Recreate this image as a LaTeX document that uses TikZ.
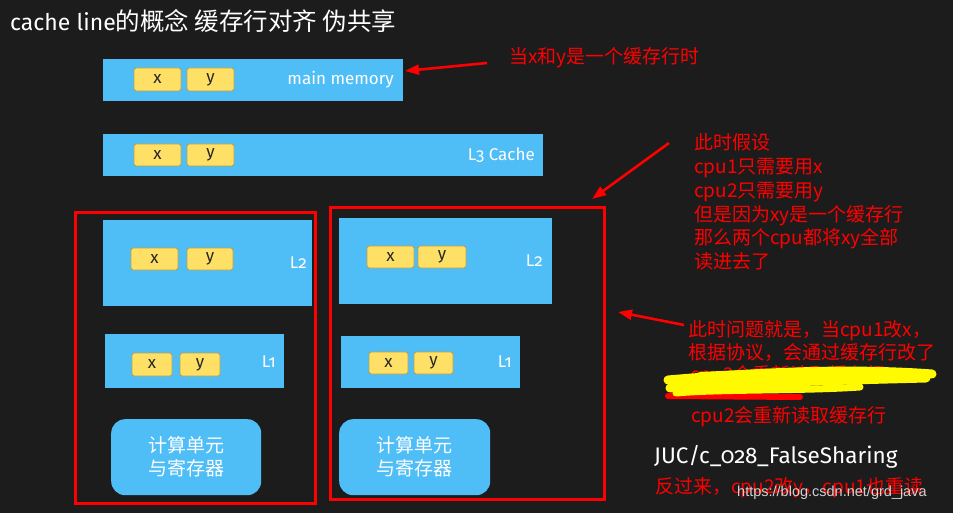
\documentclass[tikz,border=0pt]{standalone}
\usepackage{fontspec}
\setmainfont{Fira Sans}[Numbers=OldStyle]
\newfontfamily\cjk{Noto Sans CJK SC}
\newfontfamily\wmfont{Liberation Sans}
\usetikzlibrary{arrows.meta}
\definecolor{bg}{RGB}{28,28,28}
\definecolor{cblue}{RGB}{79,190,246}
\definecolor{cyel}{RGB}{255,224,102}
\definecolor{cyeld}{RGB}{185,160,70}
\definecolor{scrib}{RGB}{255,250,0}
\begin{document}
\begin{tikzpicture}[x=1pt,y=-1pt,
  bluebox/.style={fill=cblue,draw=none,inner sep=0pt,outer sep=0pt,anchor=north west},
  cell/.style={fill=cyel,draw=cyeld,line width=0.7pt,rounded corners=2.5pt,inner sep=0pt,outer sep=0pt,anchor=north west,text=black!85,font=\fontsize{17}{17}\selectfont},
  cu/.style={fill=cblue,draw=none,rounded corners=14pt,inner sep=0pt,anchor=north west,text=white,align=center,font=\cjk\fontsize{19}{23}\selectfont},
  lvl/.style={text=white,anchor=east,inner sep=0pt,font=\fontsize{17}{17}\selectfont},
  redframe/.style={draw=red,line width=3pt,inner sep=0pt,anchor=north west},
  redtxt/.style={text=red,anchor=west,inner sep=0pt,align=left,font=\cjk\fontsize{19}{23.8}\selectfont},
  redarrow/.style={draw=red,line width=2.6pt,-{Triangle[length=14pt,width=10pt]}},
  scribble/.style={draw=scrib,line width=9pt,line cap=round}
]
\fill[bg] (0,0) rectangle (953,513);
\useasboundingbox (0,0) rectangle (953,513);

% title
\node[anchor=base west,inner sep=0pt,text=white,font=\fontsize{23}{23}\selectfont] (title) at (10,31) {cache line{\cjk\fontsize{24.5}{24.5}\selectfont 的概念 缓存行对齐 伪共享}};

% main memory
\node[bluebox,minimum width=300pt,minimum height=42pt] (mm) at (103,59) {};
\node[cell,minimum width=47pt,minimum height=23pt] (mmx) at (134,68) {x};
\node[cell,minimum width=47pt,minimum height=23pt] (mmy) at (187,68) {y};
\node[lvl] (mmt) at (394,80) {main memory};

% L3
\node[bluebox,minimum width=440pt,minimum height=42pt] (l3) at (103,134) {};
\node[cell,minimum width=47pt,minimum height=22pt] (l3x) at (134,144) {x};
\node[cell,minimum width=47pt,minimum height=22pt] (l3y) at (187,144) {y};
\node[lvl] (l3t) at (535,155) {L3 Cache};

% left cpu
\node[bluebox,minimum width=209pt,minimum height=86pt] (al2) at (103,220) {};
\node[cell,minimum width=47pt,minimum height=22pt] (al2x) at (131,248) {x};
\node[cell,minimum width=46pt,minimum height=22pt] (al2y) at (187,248) {y};
\node[lvl] (al2t) at (307,263) {L2};
\node[bluebox,minimum width=179pt,minimum height=54pt] (al1) at (105,334) {};
\node[cell,minimum width=40pt,minimum height=23pt] (al1x) at (132,353) {x};
\node[cell,minimum width=40pt,minimum height=23pt] (al1y) at (180,353) {y};
\node[lvl] (al1t) at (276,362) {L1};
\node[cu,minimum width=150pt,minimum height=76pt] (acu) at (111,419) {计算单元\\与寄存器};
\node[redframe,minimum width=240pt,minimum height=291pt] (af) at (74,211) {};

% right cpu
\node[bluebox,minimum width=213pt,minimum height=86pt] (bl2) at (339,218) {};
\node[cell,minimum width=47pt,minimum height=22pt] (bl2x) at (367,246) {x};
\node[cell,minimum width=48pt,minimum height=22pt] (bl2y) at (418,246) {y};
\node[lvl] (bl2t) at (543,261) {L2};
\node[bluebox,minimum width=179pt,minimum height=52pt] (bl1) at (341,336) {};
\node[cell,minimum width=39pt,minimum height=22pt] (bl1x) at (369,352) {x};
\node[cell,minimum width=39pt,minimum height=22pt] (bl1y) at (414,352) {y};
\node[lvl] (bl1t) at (512,362) {L1};
\node[cu,minimum width=151pt,minimum height=76pt] (bcu) at (339,419) {计算单元\\与寄存器};
\node[redframe,minimum width=274pt,minimum height=292pt] (bf) at (329,206) {};

% annotations
\node[redtxt] (t1) at (509,58) {当x和y是一个缓存行时};
\coordinate (a1s) at (487,63);
\coordinate (a1e) at (405,71);
\draw[redarrow] (a1s) -- (a1e);

\node[redtxt] (t2) at (694,202) {此时假设\\cpu1只需要用x\\cpu2只需要用y\\但是因为xy是一个缓存行\\那么两个cpu都将xy全部\\读进去了};
\coordinate (a2s) at (669,143);
\coordinate (a2e) at (592,199);
\draw[redarrow] (a2s) -- (a2e);

\node[redtxt] (t3a) at (688,331) {此时问题就是，当cpu1改x，};
\node[redtxt] (t3b) at (688,353) {根据协议，会通过缓存行改了};
\coordinate (a3s) at (684,325);
\coordinate (a3e) at (618,312);
\draw[redarrow] (a3s) -- (a3e);

\node[redtxt] (t3c) at (690,376) {cpu2会重新读取缓存行};
\draw[red,line width=6pt,line cap=round] (668,396) -- (800,397);
\draw[scribble] (668,380) .. controls (760,372) and (850,368) .. (932,374);
\draw[scribble] (670,388) .. controls (760,382) and (850,380) .. (926,378);
\draw[scribble,line width=7pt] (676,393) .. controls (720,389) and (800,391) .. (860,387);
\draw[scribble,line width=8pt] (700,376) .. controls (780,372) and (860,372) .. (915,373);
\draw[scribble,line width=6pt] (690,384) .. controls (760,378) and (830,376) .. (890,380);

\node[redtxt] (t4) at (691,417) {cpu2会重新读取缓存行};
\node[anchor=west,inner sep=0pt,text=white,font=\fontsize{22.5}{22.5}\selectfont] (juc) at (654,457) {JUC/c\_028\_FalseSharing};
\node[redtxt] (t5) at (655,488) {反过来，cpu2改y，cpu1也重读};
\node[anchor=west,inner sep=0pt,text=white,opacity=0.8,font=\wmfont\fontsize{14.5}{14.5}\selectfont] (wm) at (737,493) {https://blog.csdn.net/grd\_java};
\end{tikzpicture}
\end{document}
